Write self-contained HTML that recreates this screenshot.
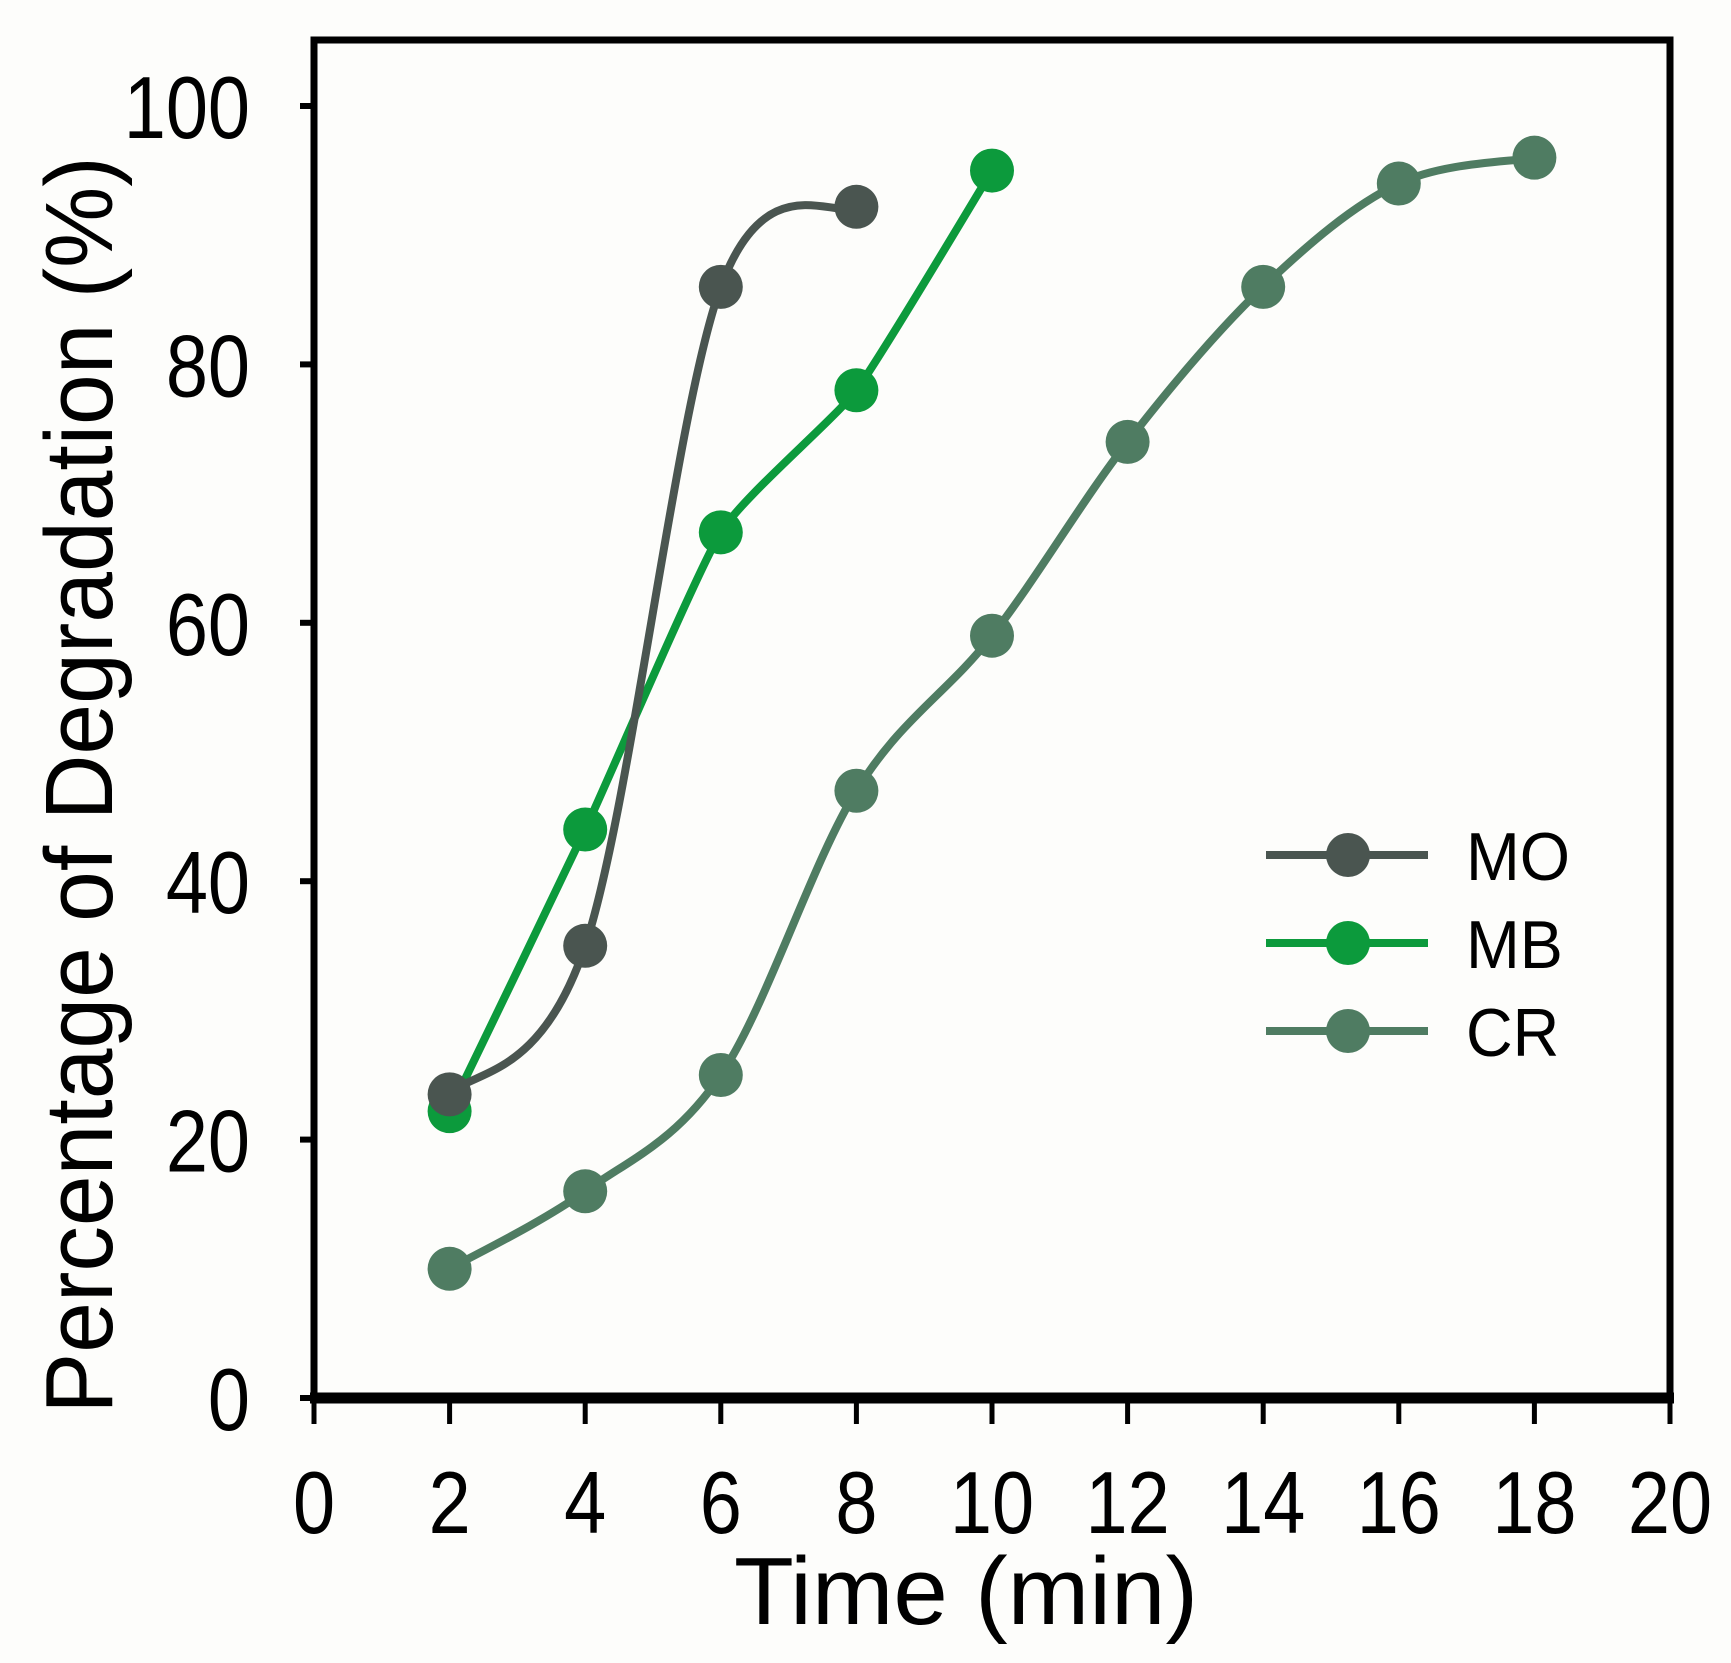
<!DOCTYPE html>
<html><head><meta charset="utf-8"><style>
html,body{margin:0;padding:0;background:#fdfdfb;}
svg{display:block;}
text{font-family:"Liberation Sans",Arial,sans-serif;fill:#000;}
</style></head><body>
<svg id="chart" width="1731" height="1663" viewBox="0 0 1731 1663">
<rect x="0" y="0" width="1731" height="1663" fill="#fdfdfb"/>
<g id="axes"></g>
<g id="series"></g>
<g id="legend"></g>
</svg>
<script>
const xTicks = [0,2,4,6,8,10,12,14,16,18,20];
const yTicks = [0,20,40,60,80,100];
const moX = [2,4,6,8];
const moY = [23.5,35,86,92.2];
const mbX = [2,4,6,8,10];
const mbY = [22.2,44,67,78,95];
const crX = [2,4,6,8,10,12,14,16,18];
const crY = [10,16,25,47,59,74,86,94,96];
const seriesNames = ["MO","MB","CR"];

const NS="http://www.w3.org/2000/svg";
const L=314,R=1670,T=40,B=1398,Y100=106;
function sx(v){return L+(v-0)*(R-L)/20;}
function sy(v){return B-(v)*(B-Y100)/100;}
function mk(tag,attrs,parent){const e=document.createElementNS(NS,tag);for(const k in attrs)e.setAttribute(k,attrs[k]);parent.appendChild(e);return e;}
const axes=document.getElementById('axes');
const frame=mk('rect',{x:L,y:T,width:R-L,height:B-T,fill:'none',stroke:'#000','stroke-width':7},axes);


const xa=mk('line',{x1:L-4,y1:B,x2:R+4,y2:B,stroke:'#000','stroke-width':11},axes);


xTicks.forEach(t=>{
  const ln=mk('line',{x1:sx(t),y1:B,x2:sx(t),y2:B+26,stroke:'#000','stroke-width':5},axes);
  
  
  const tx=mk('text',{x:0,y:0,'font-size':88,'text-anchor':'middle',transform:`translate(${sx(t)},1533) scale(0.86,1)`},axes);
  tx.textContent=t;
  
  
});
yTicks.forEach(t=>{
  const ln=mk('line',{x1:L-14,y1:sy(t),x2:L,y2:sy(t),stroke:'#000','stroke-width':6},axes);
  
  
  const tx=mk('text',{x:0,y:0,'font-size':88,'text-anchor':'end',transform:`translate(250,${sy(t)+32}) scale(0.86,1)`},axes);
  tx.textContent=t;
  
  
});
const xt=mk('text',{x:0,y:0,'font-size':96,'text-anchor':'middle',transform:'translate(966,1624) scale(1.02,1)'},axes);
xt.textContent='Time (min)';


const yt=mk('text',{x:0,y:0,'font-size':96,'text-anchor':'middle',transform:'translate(112,785) rotate(-90) scale(0.95,1)'},axes);
yt.textContent='Percentage of Degradation (%)';



function crPath(pts,k){
  let d=`M${pts[0][0]},${pts[0][1]}`;
  for(let i=0;i<pts.length-1;i++){
    const p0=pts[i-1]||pts[i],p1=pts[i],p2=pts[i+1],p3=pts[i+2]||p2;
    const c1=[p1[0]+(p2[0]-p0[0])/k,p1[1]+(p2[1]-p0[1])/k];
    const c2=[p2[0]-(p3[0]-p1[0])/k,p2[1]-(p3[1]-p1[1])/k];
    d+=` C${c1[0]},${c1[1]} ${c2[0]},${c2[1]} ${p2[0]},${p2[1]}`;
  }
  return d;
}
const colors={MO:'#4a5550',MB:'#0c9a3c',CR:'#4f7c62'};
const tension={MO:6,MB:12,CR:6};
const data={MO:[moX,moY],MB:[mbX,mbY],CR:[crX,crY]};
const sg=document.getElementById('series');
["CR","MB","MO"].forEach(n=>{
  const [xs,ys]=data[n];
  const pts=xs.map((x,i)=>[sx(x),sy(ys[i])]);
  const p=mk('path',{d:crPath(pts,tension[n]),fill:'none',stroke:colors[n],'stroke-width':8},sg);
  
  
  pts.forEach((q,i)=>{
    const c=mk('circle',{cx:q[0],cy:q[1],r:22,fill:colors[n]},sg);
    
    
  });
});
const lg=document.getElementById('legend');
seriesNames.forEach((n,i)=>{
  const y=855+i*88;
  const ln=mk('line',{x1:1266,y1:y,x2:1428,y2:y,stroke:colors[n],'stroke-width':8},lg);
  
  
  const c=mk('circle',{cx:1348,cy:y,r:22,fill:colors[n]},lg);
  
  
  const tx=mk('text',{x:0,y:0,'font-size':68,transform:`translate(1466,${y+25}) scale(0.95,1)`},lg);
  tx.textContent=n;
  
  
});
</script>
</body></html>
